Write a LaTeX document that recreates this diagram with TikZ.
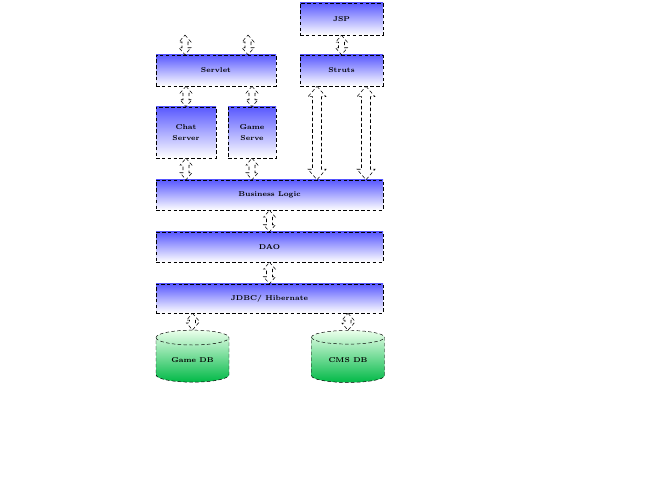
\documentclass[tikz,border=0pt]{standalone}
\usetikzlibrary{shapes.geometric,calc}
\newcommand{\flowpipe}[3][1]{%
  \draw[pipe] (#2) -- ++(6*#1,7*#1) -- ++(-3*#1,0) -- ($(#3)+(3*#1,-7*#1)$) -- ++(3*#1,0) -- (#3)
    -- ++(-6*#1,-7*#1) -- ++(3*#1,0) -- ($(#2)+(-3*#1,7*#1)$) -- ++(-3*#1,0) -- cycle;}
\begin{document}
\begin{tikzpicture}[x=0.03cm, y=-0.03cm]
        \tikzstyle{layer}   = [shape = rectangle, draw = black, densely dashed, inner sep=0pt,
                               top color = blue!65, bottom color = white,
                               font = \bfseries\fontsize{6}{10}\selectfont, align = center]
        \tikzstyle{store}   = [shape = cylinder, shape border rotate = 90, aspect = 0.35, draw = black,
                               densely dashed, inner sep=0pt, top color = green!8, bottom color = green!45!teal,
                               font = \bfseries\fontsize{6}{7}\selectfont, minimum width = 73*0.03cm, minimum height = 52*0.03cm]
        \tikzstyle{pipe}    = [draw = black, densely dashed, fill = white, line width = 0.45pt]

        \useasboundingbox (0,0) rectangle (660,487);

        \node[layer, minimum width=83*0.03cm, minimum height=32*0.03cm]  at (341.5, 19)   (jsp)     {JSP};
        \node[layer, minimum width=120*0.03cm, minimum height=31*0.03cm] at (216, 70.5)   (servlet) {Servlet};
        \node[layer, minimum width=83*0.03cm, minimum height=31*0.03cm]  at (341.5, 70.5) (struts)  {Struts};
        \node[layer, minimum width=60*0.03cm, minimum height=51*0.03cm]  at (186, 132.5)  (chat)    {Chat\\Server};
        \node[layer, minimum width=48*0.03cm, minimum height=51*0.03cm]  at (252, 132.5)  (game)    {Game\\Serve};
        \node[layer, minimum width=227*0.03cm, minimum height=30*0.03cm] at (269.5, 195)  (logic)   {Business Logic};
        \node[layer, minimum width=227*0.03cm, minimum height=30*0.03cm] at (269.5, 247)  (dao)     {DAO};
        \node[layer, minimum width=227*0.03cm, minimum height=29*0.03cm] at (269.5, 298.5) (jdbc)   {JDBC/ Hibernate};

        \node[store] at (192.5, 360) (gamedb) {Game DB};
        \node[store] at (348, 360)   (cmsdb)  {CMS DB};

        \coordinate (top1) at (185, 35);
        \coordinate (top2) at (248, 35);

        % hollow connectors
        \flowpipe{top1}{top1 |- servlet.north}
        \flowpipe{top2}{top2 |- servlet.north}
        \flowpipe{jsp.south}{struts.north}
        \flowpipe{servlet.south -| chat}{chat.north}
        \flowpipe{servlet.south -| game}{game.north}
        \flowpipe{chat.south}{logic.north -| chat}
        \flowpipe{game.south}{logic.north -| game}
        \flowpipe[1.5]{struts.south -| 317,0}{logic.north -| 317,0}
        \flowpipe[1.5]{struts.south -| 366,0}{logic.north -| 366,0}
        \flowpipe{logic.south}{dao.north}
        \flowpipe{dao.south}{jdbc.north}
        \flowpipe{jdbc.south -| gamedb}{gamedb.north}
        \flowpipe{jdbc.south -| cmsdb}{cmsdb.north}
      \end{tikzpicture}
\end{document}
